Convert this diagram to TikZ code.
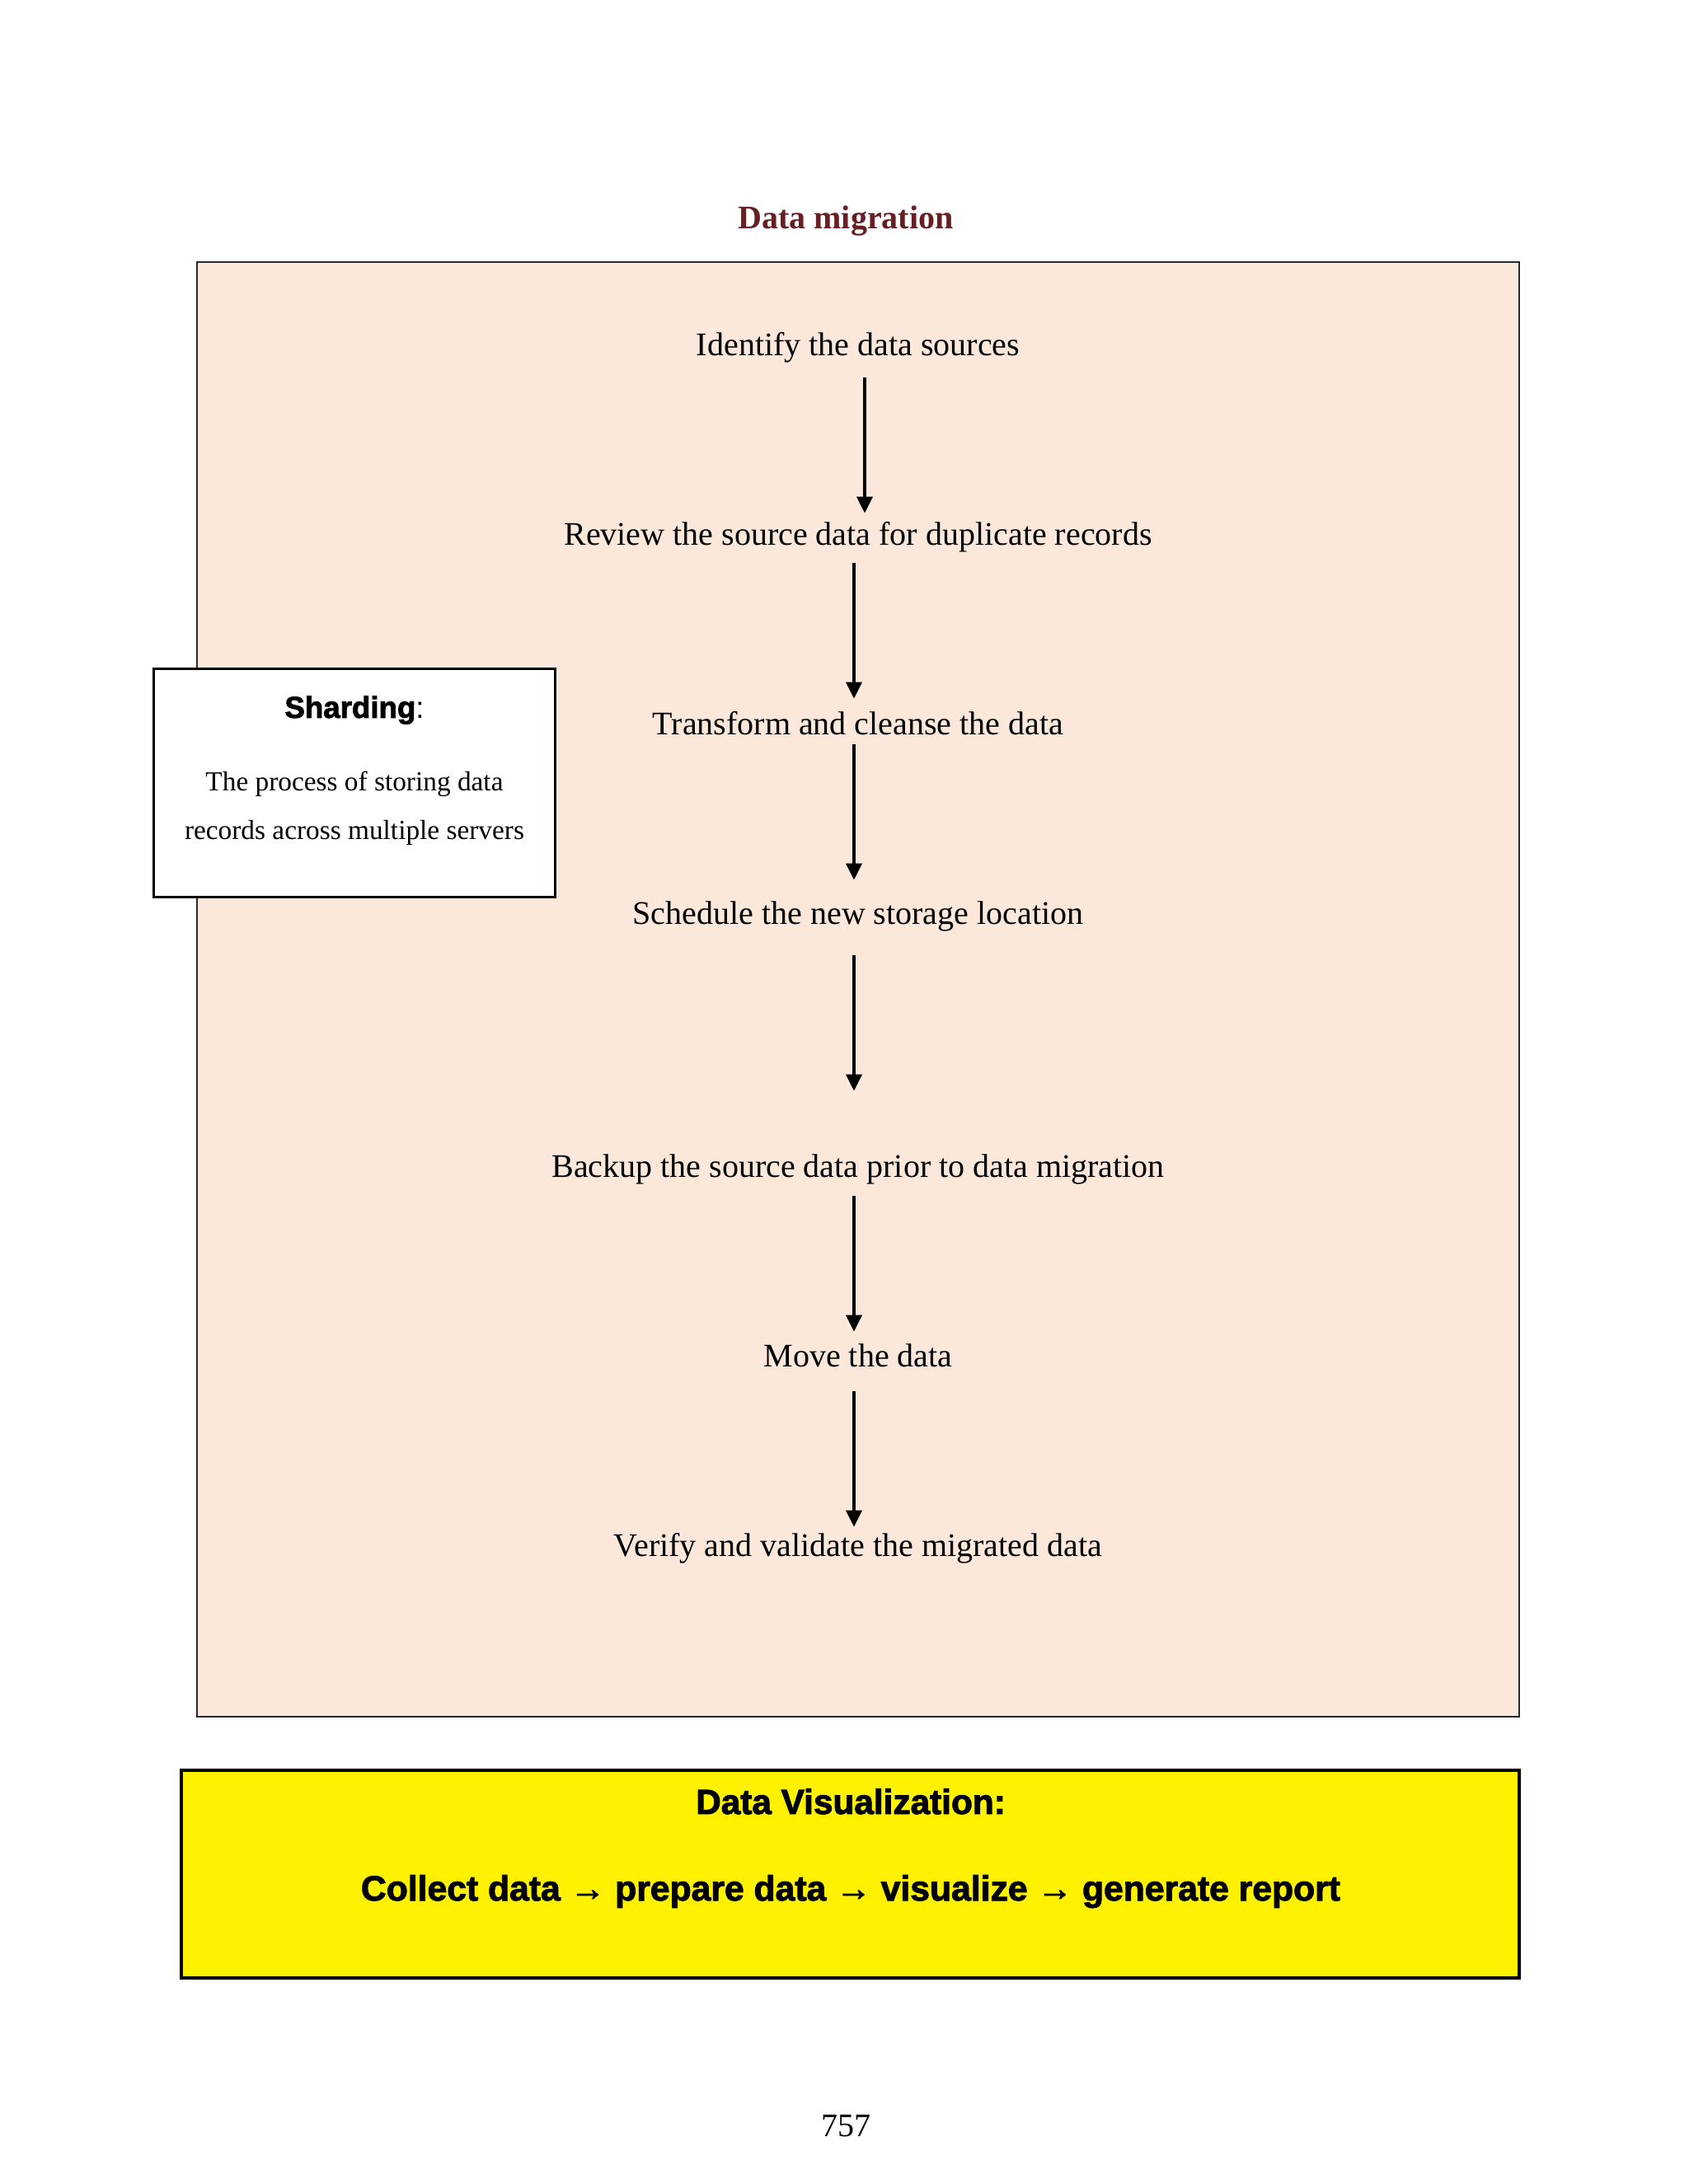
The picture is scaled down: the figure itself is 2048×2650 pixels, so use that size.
\documentclass[tikz,border=0pt]{standalone}
\usepackage{fontspec}
\setmainfont{Liberation Serif}
\newfontfamily\heavy{Liberation Sans}[BoldFeatures={FakeBold=2.2}]
\usetikzlibrary{arrows.meta}
\definecolor{peach}{RGB}{252,232,218}
\definecolor{titlered}{RGB}{103,31,35}
\definecolor{boxgray}{RGB}{40,40,40}
\tikzset{
  stepnode/.style={anchor=base, inner sep=0pt, text height=8pt, text depth=3pt, font=\fontsize{12}{14}\selectfont},
  arr/.style={-{Triangle[length=6bp,width=5.7bp]}, line width=1.1bp, black},
  plainbox/.style={draw, inner sep=0pt}
}
\begin{document}
\begin{tikzpicture}[x=0.29883bp, y=-0.29883bp]
\useasboundingbox (0,0) rectangle (2048,2650);
% title
\node[anchor=base, inner sep=0pt, text=titlered, font=\fontsize{12}{14}\selectfont\bfseries] (title) at (1026,277) {Data migration};
% main box
\node[plainbox, draw=boxgray, line width=0.6bp, fill=peach, minimum width=479.3bp, minimum height=527.4bp] (main) at (1041,1200.5) {};
% steps
\node[stepnode] (s1) at (1041,431) {Identify the data sources};
\node[stepnode] (s2) at (1041,661) {Review the source data for duplicate records};
\node[stepnode] (s3) at (1041,891) {Transform and cleanse the data};
\node[stepnode] (s4) at (1041,1121) {Schedule the new storage location};
\node[stepnode] (s5) at (1041,1428) {Backup the source data prior to data migration};
\node[stepnode] (s6) at (1041,1658) {Move the data};
\node[stepnode] (s7) at (1041,1888) {Verify and validate the migrated data};
% arrows
\draw[arr] ([shift={(8,16)}]s1.south) -- ([shift={(8,-11)}]s2.north);
\draw[arr] ([shift={(-5,11)}]s2.south) -- ([shift={(-5,-16)}]s3.north);
\draw[arr] ([shift={(-5,1)}]s3.south) -- ([shift={(-5,-26)}]s4.north);
\draw[arr] ([shift={(-5,27)}]s4.south) -- ([shift={(-5,-77)}]s5.north);
\draw[arr] ([shift={(-5,12)}]s5.south) -- ([shift={(-5,-15)}]s6.north);
\draw[arr] ([shift={(-5,19)}]s6.south) -- ([shift={(-5,-8)}]s7.north);
% sharding box
\node[plainbox, line width=0.9bp, fill=white, minimum width=145.8bp, minimum height=82.5bp] (shard) at (430,950) {};
\node[anchor=base, inner sep=0pt, font=\fontsize{11}{13}\selectfont] (shardt) at (430,871) {{\heavy\bfseries Sharding}{\heavy :}};
\node[anchor=base, inner sep=0pt, font=\fontsize{10}{12}\selectfont] (shard1) at (430,959) {The process of storing data};
\node[anchor=base, inner sep=0pt, font=\fontsize{10}{12}\selectfont] (shard2) at (430,1018) {records across multiple servers};
% visualization box
\node[plainbox, line width=1bp, fill=yellow, minimum width=485bp, minimum height=75.3bp] (vis) at (1031.5,2274) {};
\node[anchor=base, inner sep=0pt, font=\fontsize{12.7}{15}\selectfont\heavy\bfseries] (vist) at (1032,2201) {Data Visualization:};
\node[anchor=base, inner sep=0pt, font=\fontsize{12.8}{15}\selectfont\heavy\bfseries] (visl) at (1032,2306) {Collect data → prepare data → visualize → generate report};
% page number
\node[anchor=base, inner sep=0pt, font=\fontsize{12}{14}\selectfont] (page) at (1026,2592) {757};
\end{tikzpicture}
\end{document}
